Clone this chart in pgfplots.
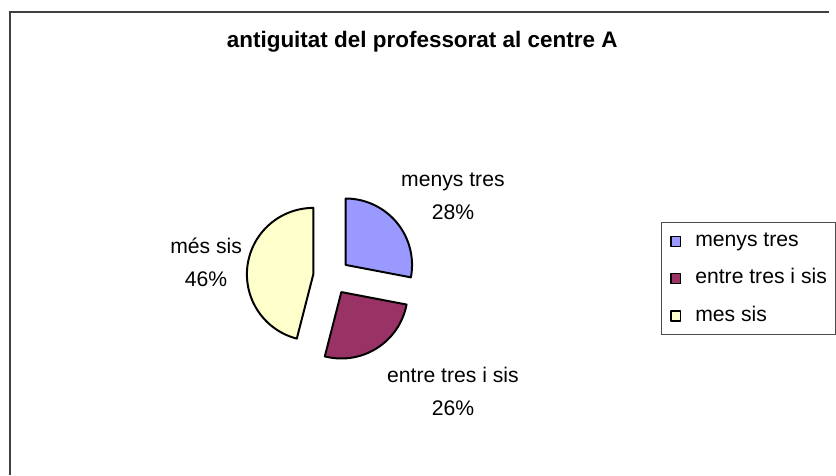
\documentclass[border=0pt]{standalone}
\usepackage{pgfplots}
\pgfplotsset{compat=1.18}
\usepackage{pgfplotstable}
\usepackage{fontspec}
\setmainfont{Liberation Sans}
\definecolor{pieblue}{HTML}{9999FF}
\definecolor{piemaroon}{HTML}{993366}
\definecolor{pieyellow}{HTML}{FFFFCC}
\pgfplotstableread{
id value
1 28
2 26
3 46
}\piedata
\begin{document}
\begin{tikzpicture}
\pgfplotstablegetelem{0}{value}\of\piedata \let\va\pgfplotsretval
\pgfplotstablegetelem{1}{value}\of\piedata \let\vb\pgfplotsretval
\pgfplotstablegetelem{2}{value}\of\piedata \let\vc\pgfplotsretval
% centre, radius, explosion (pixel units)
\def\cx{334.5}\def\cy{199.9}\def\R{67}\def\d{18.5}
\pgfmathsetmacro\aA{90}
\pgfmathsetmacro\aB{\aA-3.6*\va}
\pgfmathsetmacro\aC{\aB-3.6*\vb}
\pgfmathsetmacro\aD{\aC-3.6*\vc}
\pgfmathsetmacro\xA{\cx+\d*cos((\aA+\aB)/2)}
\pgfmathsetmacro\yA{\cy+\d*sin((\aA+\aB)/2)}
\pgfmathsetmacro\xB{\cx+\d*cos((\aB+\aC)/2)}
\pgfmathsetmacro\yB{\cy+\d*sin((\aB+\aC)/2)}
\pgfmathsetmacro\xC{\cx+\d*cos((\aC+\aD)/2)}
\pgfmathsetmacro\yC{\cy+\d*sin((\aC+\aD)/2)}
\begin{axis}[
  width=627pt, height=359.25pt, scale only axis,
  xmin=0, xmax=836, ymin=0, ymax=479,
  hide axis, clip=false,
  legend style={at={(0.7978,0.5324)}, anchor=north west,
    draw=black!70, line width=0.75pt, fill=white,
    inner xsep=6.5pt, inner ysep=6.75pt,
    font=\fontsize{16}{19}\selectfont,
    nodes={inner sep=0pt, text height=11.5pt, text depth=3.5pt},
    row sep=13.3pt, column sep=10.5pt},
  legend cell align=left,
  legend image code/.code={\draw[#1, draw=black, line width=1.1pt] (0pt,-3.75pt) rectangle (7.5pt,3.75pt);},
]
\path (axis cs:0,0) rectangle (axis cs:836,479);
\draw[black!75, line width=1.1pt] (axis cs:10,0) -- (axis cs:10,467) -- (axis cs:836,467);
\addplot[fill=pieblue, draw=black, line width=1.5pt, line join=round, domain=\aB:\aA, samples=60, variable=\t]
  ({\xA+\R*cos(\t)}, {\yA+\R*sin(\t)}) -- (axis cs:\xA,\yA) -- cycle;
\addplot[fill=piemaroon, draw=black, line width=1.5pt, line join=round, domain=\aC:\aB, samples=60, variable=\t]
  ({\xB+\R*cos(\t)}, {\yB+\R*sin(\t)}) -- (axis cs:\xB,\yB) -- cycle;
\addplot[fill=pieyellow, draw=black, line width=1.5pt, line join=round, domain=\aD:\aC, samples=80, variable=\t]
  ({\xC+\R*cos(\t)}, {\yC+\R*sin(\t)}) -- (axis cs:\xC,\yC) -- cycle;
\legend{menys tres, entre tres i sis, mes sis}
\node[anchor=base, font=\fontsize{17}{20}\selectfont\bfseries] at (axis cs:426,430.7) {antiguitat del professorat al centre A};
\node[align=center, font=\fontsize{16}{25}\selectfont] at (axis cs:457,281) {menys tres\\28\%};
\node[align=center, font=\fontsize{16}{25}\selectfont] at (axis cs:208,214) {més sis\\46\%};
\node[align=center, font=\fontsize{16}{25}\selectfont] at (axis cs:457,84) {entre tres i sis\\26\%};
\end{axis}
\end{tikzpicture}
\end{document}
